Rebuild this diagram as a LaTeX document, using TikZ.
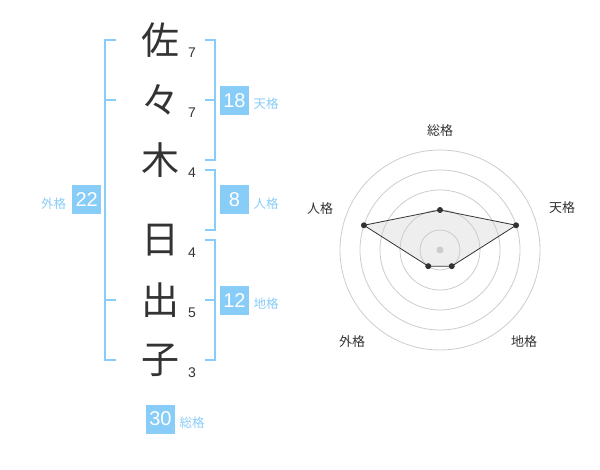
\documentclass[tikz,border=0pt]{standalone}
\usepackage{fontspec}
\setmainfont{Noto Sans CJK JP}
\newfontfamily\numfont{Liberation Sans}
\usepackage{xcolor}
\usetikzlibrary{calc}
\definecolor{kakublue}{HTML}{88CCF8}
\definecolor{inkgray}{HTML}{333333}
\definecolor{ringgray}{HTML}{CCCCCC}
\definecolor{fillgray}{HTML}{EEEEEE}
\begin{document}
\begin{tikzpicture}[x=1pt,y=-1pt,
  kanji/.style={text=inkgray,inner sep=0,font=\fontsize{38}{38}\selectfont},
  strokes/.style={text=inkgray,inner sep=0,font=\numfont\fontsize{14}{14}\selectfont},
  kakubox/.style={fill=kakublue,text=white,minimum size=29pt,inner sep=0,font=\numfont\fontsize{20}{20}\selectfont},
  kakulabel/.style={text=kakublue,inner sep=0,font=\fontsize{12.5}{12.5}\selectfont},
  radarlabel/.style={text=inkgray,inner sep=0,font=\fontsize{13}{13}\selectfont},
  bracket/.style={kakublue,line width=2pt}]
\useasboundingbox (0,0) rectangle (600,470);
% name and stroke counts
\foreach \y/\ch/\n/\nm in {40/佐/7/a,100/々/7/b,160/木/4/c,240/日/4/d,300/出/5/e,360/子/3/f}{ \node[kanji] (ch\nm) at (160,\y) {\ch}; \node[strokes] (n\nm) at (192,\y+13) {\n}; }

% brackets
\draw[bracket] (116,40) -- (105,40) -- (105,360) -- (116,360);
\foreach \y in {100,300}{ \draw[bracket] (105,\y) -- (116,\y); }
\draw[bracket] (205,40) -- (215,40) -- (215,160) -- (205,160);
\draw[bracket] (205,100) -- (215,100);
\draw[bracket] (205,170) -- (215,170) -- (215,230) -- (205,230);
\draw[bracket] (205,240) -- (215,240) -- (215,360) -- (205,360);
\draw[bracket] (205,300) -- (215,300);

% totals
\node[kakubox] (ten) at (234.5,100.5) {18};
\node[kakulabel] (tenl) at (266,104) {天格};
\node[kakubox] (jin) at (234.5,200) {8};
\node[kakulabel] (jinl) at (266,203.5) {人格};
\node[kakubox] (chi) at (234.5,300.5) {12};
\node[kakulabel] (chil) at (266,304) {地格};
\node[kakubox] (gai) at (86.7,200) {22};
\node[kakulabel] (gail) at (53.5,203.5) {外格};
\node[kakubox] (so) at (160.5,419) {30};
\node[kakulabel] (sol) at (192,422.5) {総格};

% radar
\begin{scope}[shift={(440,250)},y=1pt]
\coordinate (pso) at (90:40);
\coordinate (pten) at (18:80);
\coordinate (pchi) at (-54:20);
\coordinate (pgai) at (-126:20);
\coordinate (pjin) at (162:80);
\fill[fillgray] (pso) -- (pten) -- (pchi) -- (pgai) -- (pjin) -- cycle;
\foreach \r in {20,40,...,100}{ \draw[ringgray,line width=0.8pt] (0,0) circle (\r); }
\fill[ringgray] (0,0) circle (3.5);
\draw[inkgray,line width=0.8pt] (pso) -- (pten) -- (pchi) -- (pgai) -- (pjin) -- cycle;
\foreach \p in {pso,pten,pchi,pgai,pjin}{ \fill[inkgray] (\p) circle (3); }
\end{scope}
\node[radarlabel] (rso) at (440,131) {総格};
\node[radarlabel] (rten) at (562,208) {天格};
\node[radarlabel] (rjin) at (320,209) {人格};
\node[radarlabel] (rgai) at (352,342) {外格};
\node[radarlabel] (rchi) at (524,342) {地格};
\end{tikzpicture}
\end{document}
